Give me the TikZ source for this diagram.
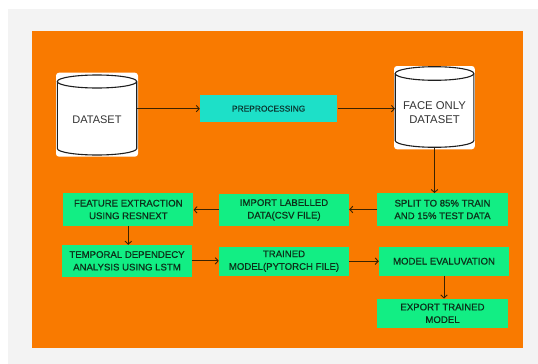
\documentclass[tikz,border=0pt]{standalone}
\usepackage{fontspec}
\setmainfont{Liberation Sans}
\newfontfamily\medfont{Liberation Sans}[FakeBold=0.6]
\usetikzlibrary{arrows.meta}
\definecolor{bggray}{HTML}{F3F3F3}
\definecolor{orng}{HTML}{F97A00}
\definecolor{grn}{HTML}{12EE84}
\definecolor{cyn}{HTML}{1DE0C8}
\definecolor{lnc}{HTML}{3A2200}
\definecolor{txg}{HTML}{0C3019}
\definecolor{txc}{HTML}{0B3A34}
\definecolor{cyltx}{HTML}{333333}
\tikzset{
  gbox/.style={fill=grn, draw=none, inner sep=0pt, align=center, text=txg,
    font=\medfont\fontsize{9.6}{12.6}\selectfont},
  cbox/.style={fill=cyn, draw=none, inner sep=0pt, align=center, text=txc,
    font=\medfont\fontsize{8.4}{10}\selectfont},
  cylnode/.style={draw=none, inner sep=0pt},
  cylline/.style={draw=black!88, line width=1.1pt},
  cyltext/.style={align=center, text=cyltx, inner sep=0pt, font=\fontsize{11}{14}\selectfont},
  conn/.style={draw=lnc, line width=0.9pt, -{Straight Barb[length=3pt,width=6.5pt,line width=0.9pt]}},
  halo/.style={fill=white, rounded corners=3pt}
}
\begin{document}
\begin{tikzpicture}[x=1pt,y=-1pt]
\useasboundingbox (0,0) rectangle (538,364);
% backgrounds
\fill[white] (0,0) rectangle (538,364);
\fill[bggray] (8,9) rectangle (538,364);
\fill[orng] (32,31) rectangle (523,348);

% DATASET cylinder
\fill[halo] (56,72.7) rectangle (138,156.7);
\node[cylnode, minimum width=79.4, minimum height=80] (ds) at (97,115) {};
\draw[cylline] (57.3,81.5) -- (57.3,148.5) arc[start angle=180, end angle=360, x radius=39.7pt, y radius=6.5pt] -- (136.7,81.5);
\draw[cylline] (97,81.5) ellipse [x radius=39.7pt, y radius=6.5pt];
\node[cyltext] (dstx) at (97,119.3) {DATASET};

% FACE ONLY DATASET cylinder
\fill[halo] (394,66) rectangle (474.8,149.3);
\node[cylnode, minimum width=78.6, minimum height=81] (fo) at (434.5,107) {};
\draw[cylline] (395.2,73.5) -- (395.2,140.5) arc[start angle=180, end angle=360, x radius=39.3pt, y radius=6.8pt] -- (473.8,73.5);
\draw[cylline] (434.5,73.5) ellipse [x radius=39.3pt, y radius=6.8pt];
\node[cyltext, font=\fontsize{11.3}{14}\selectfont] (fotx) at (434.5,113) {FACE ONLY\\DATASET};

% process boxes
\node[cbox, minimum width=137.3, minimum height=27.3] (pre) at (268.65,108.65) {PREPROCESSING};
\node[gbox, minimum width=130, minimum height=32.4] (fe) at (128.3,209.5) {FEATURE EXTRACTION\\USING RESNEXT};
\node[gbox, minimum width=130, minimum height=31.7] (il) at (284,209.85) {IMPORT LABELLED\\DATA(CSV FILE)};
\node[gbox, minimum width=130.4, minimum height=32.4] (sp) at (442.5,209.5) {SPLIT TO 85\% TRAIN\\AND 15\% TEST DATA};
\node[gbox, minimum width=129.4, minimum height=31.7] (td) at (127,260.85) {TEMPORAL DEPENDECY\\ANALYSIS USING LSTM};
\node[gbox, minimum width=130, minimum height=29] (tm) at (284,261.2) {TRAINED\\MODEL(PYTORCH FILE)};
\node[gbox, minimum width=130, minimum height=29] (me) at (444,261.2) {MODEL EVALUVATION};
\node[gbox, minimum width=131, minimum height=29.3] (ex) at (442.5,313.35) {EXPORT TRAINED\\MODEL};

% connectors
\draw[conn] (ds.east |- pre.west) -- (pre.west);
\draw[conn] (pre.east) -- (pre.east -| fo.west);
\draw[conn] (fo.south) -- (fo.south |- sp.north);
\draw[conn] (sp.west) -- (sp.west -| il.east);
\draw[conn] (il.west) -- (il.west -| fe.east);
\draw[conn] (fe.south) -- (fe.south |- td.north);
\draw[conn] (td.east) -- (td.east -| tm.west);
\draw[conn] (tm.east) -- (tm.east -| me.west);
\draw[conn] (me.south) -- (me.south |- ex.north);
\end{tikzpicture}
\end{document}
